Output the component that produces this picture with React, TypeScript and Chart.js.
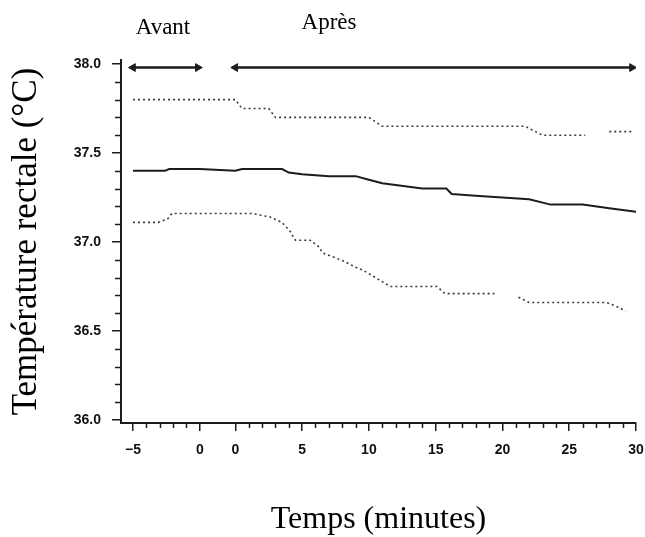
import React, { useEffect, useRef } from "react";
import { Chart, registerables } from "chart.js";

Chart.register(...registerables);

// ---- Data (time in minutes, temperature in °C) ----
const beforeTickTimes = [-5, 0];
const beforeTickLabels = ["−5", "0"];
const afterTickTimes = [0, 5, 10, 15, 20, 25, 30];
const afterTickLabels = ["0", "5", "10", "15", "20", "25", "30"];
const yTickValues = [36.0, 36.5, 37.0, 37.5, 38.0];

const upperBeforeTimes = [-5, 0];
const upperBeforeValues = [37.8, 37.8];
const upperAfterTimes = [0, 0.5, 2.5, 3, 10, 11, 21.7, 23, 26.2, 27, 28, 29.7];
const upperAfterValues = [37.8, 37.75, 37.75, 37.7, 37.7, 37.65, 37.65, 37.6, 37.6, null, 37.62, 37.62];

const meanBeforeTimes = [-5, -2.6, -2.3, 0];
const meanBeforeValues = [37.4, 37.4, 37.41, 37.41];
const meanAfterTimes = [0, 0.5, 3.5, 4, 5, 7, 9, 10, 11, 12, 14, 15.8, 16.2, 18, 20, 22, 23.6, 26, 28, 30];
const meanAfterValues = [37.4, 37.41, 37.41, 37.39, 37.38, 37.37, 37.37, 37.35, 37.33, 37.32, 37.3, 37.3, 37.27, 37.26, 37.25, 37.24, 37.21, 37.21, 37.19, 37.17];

const lowerBeforeTimes = [-5, -3.1, -2.4, -2.1, 0];
const lowerBeforeValues = [37.11, 37.11, 37.13, 37.16, 37.16];
const lowerAfterTimes = [0, 1.3, 2.6, 3.5, 4.1, 4.5, 5.6, 6.3, 6.5, 8.2, 8.95, 9.6, 11.6, 15.1, 15.7, 19.4, 20.3, 21.2, 22, 27.8, 28.8, 29.2];
const lowerAfterValues = [37.16, 37.16, 37.14, 37.11, 37.06, 37.01, 37.01, 36.97, 36.94, 36.89, 36.86, 36.84, 36.75, 36.75, 36.71, 36.71, null, 36.69, 36.66, 36.66, 36.63, 36.61];

const arrowLevel = 37.98;
const avantArrowTimes = [-5, -0.15];
const apresArrowTimes = [0, 29.7];

const labelAvant = "Avant";
const labelApres = "Après";
const yTitle = "Température rectale (°C)";
const xTitle = "Temps (minutes)";

// axis break: the "before" segment is shifted left of the "after" zero
const BREAK_GAP = 2.66;
const posBefore = (t: number) => t - BREAK_GAP;
const posAfter = (t: number) => t;

const toPoints = (bt: number[], bv: (number | null)[], at: number[], av: (number | null)[]) => [
  ...bt.map((t, i) => ({ x: posBefore(t), y: bv[i] })),
  ...at.map((t, i) => ({ x: posAfter(t), y: av[i] })),
];

const INK = "#1c1c1c";
const DOT = "#3a3a3a";

export default function App() {
  const ref = useRef<HTMLCanvasElement | null>(null);

  useEffect(() => {
    if (!ref.current) return;
    const allTickLabels = [...beforeTickLabels, ...afterTickLabels];

    const extras = {
      id: "extras",
      afterDraw(chart: any) {
        const { ctx, scales } = chart;
        const xs = scales.x;
        const ys = scales.y;
        const area = chart.chartArea;
        ctx.save();
        ctx.strokeStyle = INK;
        ctx.lineWidth = 1.5;
        // minor y ticks
        for (let k = 0; k <= 20; k++) {
          if (k % 5 === 0) continue;
          const v = 36 + k * 0.1;
          const py = Math.round(ys.getPixelForValue(v)) + 0.5;
          ctx.beginPath();
          ctx.moveTo(area.left - 6, py);
          ctx.lineTo(area.left, py);
          ctx.stroke();
        }
        // minor x ticks
        const minor: number[] = [];
        for (let t = -4; t <= -1; t++) minor.push(posBefore(t));
        for (let t = 1; t <= 29; t++) if (t % 5 !== 0) minor.push(posAfter(t));
        minor.forEach((u) => {
          const px = Math.round(xs.getPixelForValue(u)) + 0.5;
          ctx.beginPath();
          ctx.moveTo(px, area.bottom);
          ctx.lineTo(px, area.bottom + 5);
          ctx.stroke();
        });
        // top labels
        ctx.fillStyle = "#000";
        ctx.font = "23px 'Liberation Serif', 'Times New Roman', serif";
        ctx.textAlign = "center";
        ctx.textBaseline = "alphabetic";
        ctx.fillText(labelAvant, 163, 34);
        ctx.fillText(labelApres, 329, 29);
        ctx.restore();
      },
    };

    const chart = new Chart(ref.current, {
      type: "line",
      data: {
        datasets: [
          {
            label: "upper",
            data: toPoints(upperBeforeTimes, upperBeforeValues, upperAfterTimes, upperAfterValues) as any,
            borderColor: DOT,
            borderWidth: 1.6,
            borderDash: [2, 3],
            pointRadius: 0,
            spanGaps: false,
          },
          {
            label: "mean",
            data: toPoints(meanBeforeTimes, meanBeforeValues, meanAfterTimes, meanAfterValues) as any,
            borderColor: INK,
            borderWidth: 2,
            pointRadius: 0,
          },
          {
            label: "lower",
            data: toPoints(lowerBeforeTimes, lowerBeforeValues, lowerAfterTimes, lowerAfterValues) as any,
            borderColor: DOT,
            borderWidth: 1.6,
            borderDash: [2, 3],
            pointRadius: 0,
            spanGaps: false,
          },
          {
            label: "avant",
            data: avantArrowTimes.map((t) => ({ x: posBefore(t), y: arrowLevel })) as any,
            borderColor: INK,
            borderWidth: 2.5,
            pointStyle: "triangle",
            pointRadius: 4.5,
            pointRotation: [-90, 90] as any,
            pointBackgroundColor: INK,
            pointBorderColor: INK,
            pointBorderWidth: 1,
          },
          {
            label: "apres",
            data: apresArrowTimes.map((t) => ({ x: posAfter(t), y: arrowLevel })) as any,
            borderColor: INK,
            borderWidth: 2.5,
            pointStyle: "triangle",
            pointRadius: 4.5,
            pointRotation: [-90, 90] as any,
            pointBackgroundColor: INK,
            pointBorderColor: INK,
            pointBorderWidth: 1,
          },
        ],
      },
      options: {
        animation: false,
        responsive: true,
        maintainAspectRatio: false,
        layout: { padding: { top: 60, right: 9, left: 0, bottom: 0 } },
        plugins: { legend: { display: false }, tooltip: { enabled: false } },
        scales: {
          x: {
            type: "linear",
            min: -8.56,
            max: 30,
            afterBuildTicks: (scale: any) => {
              scale.ticks = [
                ...beforeTickTimes.map((t) => ({ value: posBefore(t) })),
                ...afterTickTimes.map((t) => ({ value: posAfter(t) })),
              ];
            },
            afterFit: (scale: any) => {
              scale.height = 114;
              scale.paddingLeft = 0;
              scale.paddingRight = 0;
            },
            ticks: {
              autoSkip: false,
              maxRotation: 0,
              minRotation: 0,
              padding: 11,
              color: "#111",
              font: { family: "'Liberation Sans', Arial, sans-serif", size: 14, weight: "bold" },
              callback: (_v: any, i: number) => allTickLabels[i],
            },
            grid: { drawOnChartArea: false, drawTicks: true, tickLength: 8, color: INK, lineWidth: 1.5 },
            border: { display: true, color: INK, width: 2 },
            title: {
              display: true,
              text: xTitle,
              color: "#000",
              padding: { top: 0, bottom: 1 },
              font: { family: "'Liberation Serif', 'Times New Roman', serif", size: 32, lineHeight: 1 },
            },
          },
          y: {
            type: "linear",
            min: 35.983,
            max: 38.0225,
            afterBuildTicks: (scale: any) => {
              scale.ticks = yTickValues.map((v) => ({ value: v }));
            },
            afterFit: (scale: any) => {
              scale.width = 121;
              scale.paddingTop = 0;
              scale.paddingBottom = 0;
            },
            ticks: {
              padding: 11,
              color: "#111",
              font: { family: "'Liberation Sans', Arial, sans-serif", size: 14, weight: "bold" },
              callback: (v: any) => Number(v).toFixed(1),
            },
            grid: { drawOnChartArea: false, drawTicks: true, tickLength: 9, color: INK, lineWidth: 1.5 },
            border: { display: true, color: INK, width: 2 },
            title: {
              display: true,
              text: yTitle,
              color: "#000",
              padding: { top: 9, bottom: 0 },
              font: { family: "'Liberation Serif', 'Times New Roman', serif", size: 35, lineHeight: 1 },
            },
          },
        },
      },
      plugins: [extras],
    } as any);

    return () => chart.destroy();
  }, []);

  return (
    <div style={{ position: "fixed", left: 0, top: 0, width: 645, height: 537, background: "#fff" }}>
      <canvas ref={ref} />
    </div>
  );
}
